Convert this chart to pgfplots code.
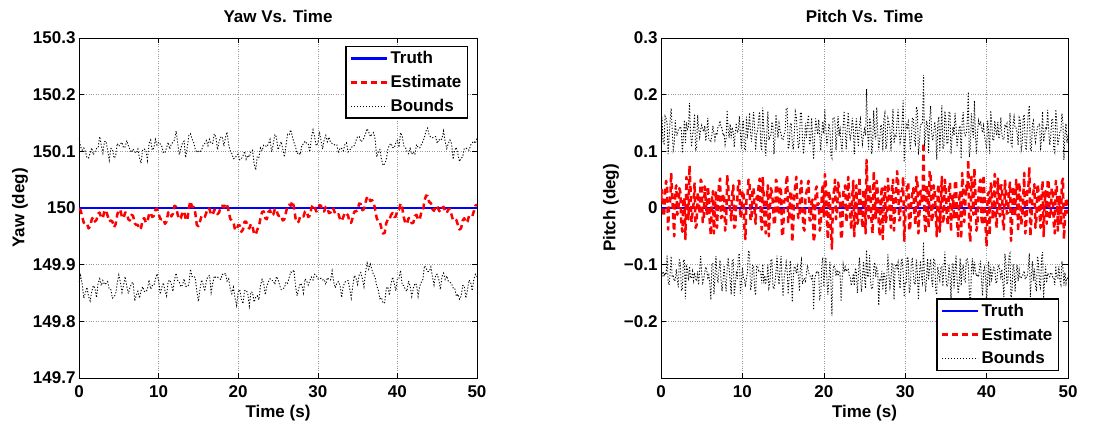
\documentclass[border=0pt]{standalone}
\usepackage{fontspec}
\setmainfont{Liberation Sans}
\usepackage{pgfplots}
\usepackage{pgfplotstable}
\pgfplotsset{compat=1.18}

\newcommand{\bigbf}{\fontsize{17}{20}\selectfont\bfseries}

% yaw: t, estimate, upper bound, lower bound (deg)
\pgfplotstableread{
t est up lo
0.0 149.998 150.123 149.869
0.2 149.996 150.108 149.881
0.4 149.985 150.102 149.866
0.6 149.974 150.106 149.841
0.8 149.972 150.100 149.850
1.0 149.973 150.089 149.860
1.2 149.964 150.088 149.844
1.4 149.967 150.097 149.836
1.6 149.980 150.106 149.853
1.8 149.984 150.094 149.863
2.0 149.976 150.099 149.859
2.2 149.979 150.105 149.842
2.4 149.990 150.106 149.867
2.6 149.992 150.126 149.875
2.8 149.982 150.111 149.863
3.0 149.983 150.097 149.872
3.2 149.995 150.117 149.865
3.4 149.996 150.118 149.867
3.6 149.986 150.101 149.870
3.8 149.976 150.084 149.857
4.0 149.978 150.105 149.856
4.2 149.976 150.104 149.841
4.4 149.966 150.088 149.843
4.6 149.971 150.091 149.848
4.8 149.988 150.114 149.867
5.0 149.997 150.109 149.882
5.2 149.996 150.113 149.869
5.4 149.984 150.116 149.851
5.6 149.982 150.106 149.864
5.8 149.992 150.108 149.879
6.0 149.991 150.119 149.862
6.2 149.980 150.110 149.849
6.4 149.978 150.103 149.859
6.6 149.988 150.098 149.867
6.8 149.986 150.104 149.869
7.0 149.973 150.099 149.836
7.2 149.970 150.097 149.846
7.4 149.970 150.104 149.853
7.6 149.962 150.088 149.841
7.8 149.965 150.079 149.854
8.0 149.980 150.103 149.861
8.2 149.982 150.104 149.853
8.4 149.974 150.102 149.852
8.6 149.976 150.084 149.857
8.8 149.989 150.114 149.873
9.0 149.992 150.120 149.857
9.2 149.984 150.102 149.863
9.4 149.986 150.106 149.863
9.6 149.997 150.121 149.874
9.8 149.999 150.111 149.884
10.0 149.990 150.116 149.873
10.2 149.981 150.113 149.848
10.4 149.980 150.109 149.860
10.6 149.981 150.097 149.868
10.8 149.972 150.098 149.854
11.0 149.976 150.106 149.845
11.2 149.992 150.116 149.870
11.4 149.994 150.104 149.873
11.6 149.985 150.113 149.866
11.8 149.990 150.116 149.853
12.0 150.004 150.120 149.874
12.2 150.002 150.136 149.885
12.4 149.988 150.114 149.872
12.6 149.980 150.094 149.869
12.8 149.982 150.105 149.861
13.0 149.993 150.115 149.864
13.2 149.994 150.118 149.875
13.4 149.981 150.089 149.862
13.6 149.978 150.107 149.861
13.8 150.000 150.128 149.865
14.0 150.012 150.131 149.892
14.2 150.002 150.122 149.879
14.4 150.002 150.116 149.880
14.6 149.992 150.104 149.877
14.8 149.970 150.098 149.854
15.0 149.968 150.100 149.835
15.2 149.976 150.099 149.857
15.4 149.986 150.102 149.873
15.6 149.986 150.111 149.865
15.8 149.984 150.114 149.853
16.0 149.992 150.119 149.872
16.2 150.000 150.110 149.879
16.4 149.998 150.121 149.881
16.6 149.988 150.114 149.851
16.8 149.988 150.114 149.867
17.0 149.997 150.131 149.880
17.2 149.996 150.125 149.877
17.4 149.989 150.103 149.878
17.6 149.992 150.117 149.876
17.8 150.003 150.125 149.874
18.0 150.004 150.126 149.883
18.2 150.001 150.109 149.882
18.4 150.008 150.124 149.885
18.6 150.006 150.134 149.871
18.8 149.994 150.112 149.875
19.0 149.981 150.101 149.858
19.2 149.978 150.096 149.849
19.4 149.975 150.087 149.860
19.6 149.962 150.088 149.841
19.8 149.961 150.093 149.828
20.0 149.970 150.095 149.852
20.2 149.969 150.085 149.856
20.4 149.958 150.087 149.839
20.6 149.962 150.092 149.831
20.8 149.976 150.100 149.854
21.0 149.976 150.086 149.855
21.2 149.966 150.093 149.849
21.4 149.964 150.090 149.827
21.6 149.972 150.100 149.852
21.8 149.968 150.102 149.851
22.0 149.954 150.078 149.834
22.2 149.953 150.067 149.842
22.4 149.962 150.091 149.845
22.6 149.967 150.089 149.838
22.8 149.982 150.106 149.863
23.0 149.993 150.101 149.874
23.2 149.994 150.111 149.867
23.4 149.982 150.110 149.847
23.6 149.980 150.108 149.862
23.8 149.993 150.113 149.870
24.0 149.996 150.121 149.875
24.2 149.987 150.099 149.872
24.4 149.988 150.112 149.872
24.6 149.998 150.130 149.865
24.8 149.998 150.125 149.879
25.0 149.987 150.103 149.874
25.2 149.986 150.109 149.864
25.4 149.987 150.117 149.856
25.6 149.978 150.104 149.858
25.8 149.980 150.090 149.859
26.0 149.992 150.110 149.869
26.2 150.004 150.130 149.867
26.4 150.006 150.129 149.877
26.6 150.004 150.138 149.887
26.8 150.012 150.126 149.886
27.0 150.002 150.116 149.891
27.2 149.982 150.108 149.862
27.4 149.974 150.096 149.845
27.6 149.976 150.098 149.858
27.8 149.986 150.094 149.867
28.0 149.986 150.111 149.864
28.2 149.985 150.113 149.850
28.4 149.994 150.118 149.875
28.6 149.994 150.114 149.871
28.8 149.984 150.113 149.864
29.0 149.987 150.099 149.872
29.2 150.000 150.125 149.878
29.4 150.006 150.138 149.873
29.6 150.002 150.125 149.883
29.8 149.994 150.110 149.881
30.0 149.996 150.114 149.875
30.2 150.005 150.135 149.874
30.4 150.004 150.119 149.876
30.6 149.994 150.104 149.873
30.8 149.994 150.120 149.874
31.0 150.002 150.128 149.865
31.2 150.000 150.117 149.877
31.4 149.991 150.125 149.874
31.6 149.992 150.116 149.873
31.8 150.000 150.114 149.889
32.0 149.998 150.113 149.869
32.2 149.988 150.110 149.859
32.4 149.988 150.111 149.868
32.6 149.989 150.097 149.870
32.8 149.980 150.106 149.863
33.0 149.977 150.105 149.842
33.2 149.984 150.101 149.862
33.4 149.992 150.112 149.869
33.6 149.990 150.115 149.871
33.8 149.987 150.099 149.872
34.0 149.974 150.102 149.858
34.2 149.974 150.106 149.841
34.4 149.984 150.110 149.863
34.6 149.994 150.110 149.881
34.8 149.994 150.119 149.876
35.0 149.996 150.126 149.865
35.2 150.008 150.126 149.882
35.4 150.007 150.117 149.886
35.6 149.996 150.119 149.875
35.8 149.998 150.124 149.861
36.0 150.010 150.131 149.887
36.2 150.020 150.140 149.903
36.4 150.020 150.134 149.892
36.6 150.012 150.126 149.901
36.8 150.014 150.130 149.891
37.0 150.011 150.133 149.882
37.2 149.998 150.122 149.878
37.4 149.982 150.090 149.863
37.6 149.976 150.099 149.855
37.8 149.975 150.103 149.840
38.0 149.964 150.086 149.842
38.2 149.955 150.075 149.832
38.4 149.956 150.078 149.833
38.6 149.973 150.085 149.858
38.8 149.980 150.104 149.861
39.0 149.979 150.111 149.846
39.2 149.988 150.114 149.866
39.4 149.991 150.107 149.878
39.6 149.984 150.106 149.867
39.8 149.985 150.115 149.854
40.0 149.996 150.119 149.876
40.2 149.997 150.107 149.876
40.4 150.008 150.133 149.890
40.6 150.001 150.127 149.864
40.8 149.984 150.110 149.863
41.0 149.973 150.107 149.856
41.2 149.972 150.100 149.853
41.4 149.982 150.096 149.871
41.6 149.982 150.105 149.862
41.8 149.973 150.095 149.844
42.0 149.974 150.099 149.858
42.2 149.986 150.094 149.867
42.4 149.988 150.112 149.865
42.6 149.979 150.107 149.844
42.8 149.980 150.106 149.862
43.0 149.992 150.112 149.869
43.2 149.994 150.117 149.874
43.4 150.013 150.125 149.898
43.6 150.022 150.136 149.894
43.8 150.021 150.141 149.888
44.0 150.010 150.128 149.888
44.2 150.009 150.125 149.896
44.4 149.998 150.124 149.879
44.6 149.995 150.125 149.864
44.8 150.002 150.126 149.882
45.0 150.004 150.114 149.883
45.2 149.996 150.121 149.874
45.4 149.993 150.119 149.856
45.6 150.000 150.122 149.879
45.8 150.002 150.136 149.885
46.0 149.994 150.117 149.874
46.2 149.991 150.105 149.880
46.4 149.998 150.114 149.871
46.6 149.998 150.120 149.869
46.8 149.988 150.114 149.867
47.0 149.978 150.086 149.859
47.2 149.978 150.102 149.859
47.4 149.979 150.107 149.844
47.6 149.970 150.095 149.848
47.8 149.962 150.082 149.839
48.0 149.964 150.088 149.844
48.2 149.978 150.090 149.863
48.4 149.982 150.105 149.863
48.6 149.974 150.106 149.841
48.8 149.976 150.103 149.855
49.0 149.986 150.102 149.873
49.2 149.986 150.111 149.869
49.4 149.985 150.115 149.854
49.6 149.994 150.118 149.874
49.8 150.004 150.114 149.883
50.0 150.006 150.123 149.879
}\yawdata

% pitch: t, estimate, upper bound, lower bound (deg)
\pgfplotstableread{
t est up lo
0.000 0.012 0.144 -0.126
0.125 0.032 0.160 -0.120
0.250 -0.008 0.114 -0.112
0.375 -0.015 0.113 -0.121
0.500 0.025 0.162 -0.114
0.625 0.048 0.158 -0.118
0.750 0.040 0.150 -0.084
0.875 -0.038 0.095 -0.129
1.000 0.005 0.126 -0.136
1.125 0.010 0.155 -0.115
1.250 0.062 0.176 -0.085
1.375 0.022 0.137 -0.121
1.500 -0.018 0.103 -0.119
1.625 -0.050 0.113 -0.129
1.750 0.030 0.155 -0.127
1.875 0.040 0.130 -0.108
2.000 -0.012 0.128 -0.126
2.125 -0.005 0.138 -0.140
2.250 0.035 0.139 -0.089
2.375 0.028 0.144 -0.098
2.500 -0.030 0.139 -0.145
2.625 -0.042 0.097 -0.145
2.750 0.018 0.125 -0.091
2.875 0.018 0.155 -0.093
3.000 -0.055 0.115 -0.161
3.125 0.055 0.151 -0.103
3.250 0.022 0.139 -0.107
3.375 -0.020 0.142 -0.128
3.500 0.075 0.185 -0.103
3.625 0.035 0.133 -0.123
3.750 -0.025 0.108 -0.124
3.875 -0.008 0.128 -0.112
4.000 0.008 0.142 -0.128
4.125 0.045 0.166 -0.114
4.250 -0.035 0.101 -0.125
4.375 -0.030 0.105 -0.129
4.500 0.028 0.164 -0.112
4.625 0.012 0.140 -0.136
4.750 -0.010 0.125 -0.109
4.875 0.050 0.139 -0.085
5.000 0.045 0.146 -0.116
5.125 -0.025 0.138 -0.132
5.250 -0.020 0.135 -0.126
5.375 0.038 0.145 -0.113
5.500 0.012 0.118 -0.104
5.625 -0.012 0.132 -0.110
5.750 0.038 0.159 -0.123
5.875 0.020 0.120 -0.118
6.000 -0.028 0.120 -0.134
6.125 -0.048 0.116 -0.162
6.250 0.015 0.129 -0.099
6.375 0.030 0.145 -0.097
6.500 -0.045 0.132 -0.152
6.625 0.005 0.120 -0.122
6.750 0.030 0.131 -0.085
6.875 -0.035 0.129 -0.119
7.000 0.005 0.144 -0.132
7.125 0.042 0.145 -0.109
7.250 0.052 0.154 -0.092
7.375 -0.018 0.143 -0.127
7.500 -0.015 0.141 -0.147
7.625 0.025 0.128 -0.128
7.750 0.022 0.131 -0.101
7.875 -0.040 0.112 -0.128
8.000 -0.030 0.123 -0.147
8.125 0.058 0.173 -0.107
8.250 0.040 0.138 -0.088
8.375 0.008 0.124 -0.110
8.500 -0.005 0.148 -0.128
8.625 -0.022 0.123 -0.153
8.750 0.025 0.142 -0.092
8.875 0.040 0.134 -0.090
9.000 -0.035 0.107 -0.155
9.125 -0.032 0.134 -0.136
9.250 0.010 0.150 -0.111
9.375 0.015 0.133 -0.125
9.500 0.048 0.136 -0.086
9.625 0.048 0.162 -0.080
9.750 -0.018 0.131 -0.151
9.875 -0.010 0.105 -0.133
10.000 0.030 0.149 -0.105
10.125 0.030 0.155 -0.123
10.250 -0.040 0.102 -0.126
10.375 -0.055 0.103 -0.139
10.500 0.015 0.161 -0.123
10.625 0.022 0.129 -0.113
10.750 0.050 0.141 -0.075
10.875 0.045 0.168 -0.080
11.000 -0.022 0.131 -0.145
11.125 -0.015 0.117 -0.137
11.250 0.035 0.145 -0.101
11.375 0.035 0.169 -0.101
11.500 -0.008 0.144 -0.144
11.625 -0.028 0.102 -0.154
11.750 0.020 0.130 -0.102
11.875 0.010 0.137 -0.103
12.000 0.042 0.159 -0.111
12.125 0.052 0.170 -0.110
12.250 -0.015 0.111 -0.115
12.375 -0.038 0.101 -0.133
12.500 0.055 0.177 -0.099
12.625 0.018 0.143 -0.133
12.750 -0.030 0.115 -0.119
12.875 -0.045 0.092 -0.132
13.000 0.020 0.134 -0.128
13.125 0.040 0.170 -0.100
13.250 -0.050 0.120 -0.141
13.375 0.000 0.126 -0.132
13.500 0.035 0.129 -0.093
13.625 0.028 0.152 -0.090
13.750 0.008 0.144 -0.138
13.875 -0.030 0.095 -0.143
14.000 -0.025 0.122 -0.132
14.125 0.050 0.165 -0.113
14.250 0.045 0.144 -0.084
14.375 -0.012 0.124 -0.118
14.500 -0.010 0.149 -0.135
14.625 0.038 0.137 -0.105
14.750 0.030 0.131 -0.085
14.875 -0.050 0.121 -0.127
15.000 -0.045 0.120 -0.156
15.125 0.012 0.130 -0.124
15.250 0.015 0.135 -0.111
15.375 0.045 0.174 -0.096
15.500 0.058 0.177 -0.111
15.625 -0.025 0.104 -0.152
15.750 -0.020 0.110 -0.122
15.875 0.030 0.147 -0.093
16.000 0.025 0.150 -0.120
16.125 -0.060 0.114 -0.166
16.250 -0.030 0.103 -0.123
16.375 0.022 0.131 -0.103
16.500 0.040 0.170 -0.106
16.625 0.055 0.161 -0.115
16.750 0.002 0.131 -0.103
16.875 -0.018 0.105 -0.119
17.000 -0.018 0.115 -0.147
17.125 0.035 0.167 -0.103
17.250 0.048 0.169 -0.092
17.375 -0.005 0.124 -0.134
17.500 -0.035 0.095 -0.127
17.625 -0.040 0.118 -0.124
17.750 0.020 0.150 -0.132
17.875 0.028 0.124 -0.114
18.000 0.038 0.153 -0.101
18.125 0.048 0.164 -0.114
18.250 -0.022 0.111 -0.117
18.375 -0.022 0.119 -0.123
18.500 0.010 0.159 -0.125
18.625 0.015 0.125 -0.117
18.750 -0.060 0.086 -0.180
18.875 -0.048 0.122 -0.126
19.000 0.032 0.158 -0.118
19.125 0.038 0.143 -0.111
19.250 0.005 0.130 -0.116
19.375 0.008 0.156 -0.114
19.500 -0.040 0.128 -0.160
19.625 -0.030 0.101 -0.155
19.750 0.025 0.132 -0.100
19.875 0.042 0.153 -0.087
20.000 -0.015 0.131 -0.139
20.125 0.060 0.174 -0.106
20.250 0.042 0.139 -0.087
20.375 -0.020 0.110 -0.124
20.500 -0.055 0.123 -0.153
20.625 0.030 0.149 -0.127
20.750 0.018 0.139 -0.095
20.875 -0.042 0.093 -0.131
21.000 -0.072 0.088 -0.190
21.125 0.018 0.159 -0.111
21.250 0.030 0.160 -0.101
21.375 0.050 0.151 -0.107
21.500 -0.020 0.102 -0.120
21.625 -0.010 0.133 -0.109
21.750 0.045 0.162 -0.120
21.875 0.035 0.127 -0.111
22.000 0.008 0.138 -0.116
22.125 -0.055 0.113 -0.165
22.250 -0.045 0.100 -0.128
22.375 0.025 0.142 -0.100
22.500 0.035 0.171 -0.113
22.625 0.040 0.138 -0.104
22.750 -0.025 0.104 -0.112
22.875 -0.015 0.139 -0.109
23.000 0.055 0.169 -0.107
23.125 0.022 0.135 -0.119
23.250 -0.010 0.123 -0.123
23.375 -0.038 0.133 -0.137
23.500 0.022 0.159 -0.129
23.625 0.048 0.140 -0.116
23.750 -0.050 0.095 -0.137
23.875 0.005 0.134 -0.106
24.000 0.040 0.158 -0.112
24.125 -0.028 0.130 -0.150
24.250 -0.020 0.108 -0.118
24.375 0.055 0.147 -0.087
24.500 0.015 0.157 -0.119
24.625 -0.012 0.128 -0.148
24.750 -0.035 0.113 -0.121
24.875 0.032 0.130 -0.094
25.000 0.030 0.139 -0.123
25.125 -0.045 0.128 -0.142
25.250 0.085 0.210 -0.074
25.375 0.020 0.136 -0.122
25.500 -0.018 0.103 -0.119
25.625 0.042 0.159 -0.083
25.750 0.025 0.152 -0.130
25.875 -0.030 0.095 -0.143
26.000 -0.045 0.112 -0.142
26.125 0.065 0.172 -0.106
26.250 0.020 0.132 -0.096
26.375 -0.018 0.121 -0.121
26.500 0.048 0.178 -0.106
26.625 0.028 0.132 -0.110
26.750 -0.028 0.102 -0.172
26.875 -0.050 0.121 -0.127
27.000 0.010 0.147 -0.129
27.125 0.038 0.143 -0.111
27.250 -0.055 0.101 -0.145
27.375 0.010 0.157 -0.113
27.500 0.038 0.167 -0.121
27.625 -0.025 0.104 -0.152
27.750 -0.012 0.114 -0.118
27.875 0.052 0.158 -0.082
28.000 0.025 0.150 -0.120
28.125 -0.008 0.140 -0.140
28.250 -0.035 0.101 -0.125
28.375 0.035 0.137 -0.097
28.500 0.050 0.175 -0.101
28.625 -0.040 0.114 -0.162
28.750 -0.005 0.128 -0.106
28.875 0.022 0.125 -0.099
29.000 0.065 0.156 -0.106
29.125 0.048 0.174 -0.096
29.250 -0.022 0.134 -0.127
29.375 -0.020 0.116 -0.142
29.500 0.030 0.127 -0.095
29.625 0.030 0.153 -0.089
29.750 0.055 0.190 -0.115
29.875 -0.058 0.081 -0.157
30.000 -0.020 0.124 -0.130
30.125 0.015 0.147 -0.131
30.250 0.040 0.142 -0.086
30.375 0.045 0.152 -0.090
30.500 -0.040 0.134 -0.150
30.625 -0.032 0.102 -0.140
30.750 0.015 0.123 -0.093
30.875 0.025 0.158 -0.090
31.000 0.035 0.159 -0.117
31.125 -0.010 0.119 -0.135
31.250 -0.030 0.113 -0.133
31.375 0.055 0.179 -0.091
31.500 0.048 0.172 -0.116
31.625 -0.045 0.094 -0.162
31.750 -0.010 0.115 -0.117
31.875 0.030 0.147 -0.093
32.000 0.020 0.148 -0.122
32.125 0.008 0.148 -0.132
32.250 0.115 0.235 -0.060
32.375 -0.022 0.109 -0.125
32.500 -0.045 0.128 -0.148
32.625 0.040 0.154 -0.122
32.750 0.030 0.145 -0.089
32.875 -0.035 0.097 -0.127
33.000 0.065 0.156 -0.106
33.125 0.060 0.180 -0.090
33.250 -0.025 0.133 -0.128
33.375 -0.015 0.119 -0.139
33.500 0.040 0.132 -0.090
33.625 0.028 0.152 -0.090
33.750 -0.008 0.136 -0.146
33.875 -0.050 0.085 -0.153
34.000 0.032 0.150 -0.104
34.125 0.042 0.161 -0.117
34.250 -0.042 0.101 -0.127
34.375 0.012 0.136 -0.106
34.500 0.055 0.181 -0.103
34.625 -0.028 0.104 -0.138
34.750 -0.015 0.109 -0.107
34.875 0.050 0.171 -0.077
35.000 0.025 0.154 -0.122
35.125 -0.018 0.115 -0.139
35.250 -0.030 0.113 -0.133
35.375 0.035 0.169 -0.101
35.500 0.045 0.170 -0.118
35.625 -0.042 0.095 -0.161
35.750 0.010 0.125 -0.107
35.875 0.022 0.143 -0.097
36.000 -0.020 0.128 -0.142
36.125 0.048 0.168 -0.112
36.250 0.048 0.142 -0.084
36.375 -0.025 0.108 -0.126
36.500 -0.050 0.125 -0.151
36.625 0.015 0.141 -0.135
36.750 0.030 0.145 -0.089
36.875 -0.055 0.087 -0.137
37.000 0.062 0.155 -0.107
37.125 0.038 0.169 -0.101
37.250 -0.025 0.133 -0.128
37.375 0.005 0.128 -0.130
37.500 0.040 0.132 -0.090
37.625 0.030 0.153 -0.089
37.750 0.085 0.205 -0.100
37.875 -0.040 0.090 -0.148
38.000 -0.060 0.104 -0.185
38.125 0.055 0.167 -0.111
38.250 0.035 0.139 -0.089
38.375 -0.012 0.124 -0.118
38.500 0.070 0.189 -0.095
38.625 0.025 0.130 -0.112
38.750 -0.040 0.096 -0.120
38.875 -0.030 0.131 -0.117
39.000 0.025 0.154 -0.122
39.125 0.045 0.146 -0.108
39.250 0.050 0.153 -0.093
39.375 -0.020 0.142 -0.128
39.500 -0.030 0.133 -0.155
39.625 0.058 0.145 -0.111
39.750 0.015 0.127 -0.105
39.875 -0.035 0.115 -0.125
40.000 -0.068 0.104 -0.166
40.125 0.020 0.154 -0.126
40.250 0.028 0.132 -0.094
40.375 -0.048 0.096 -0.138
40.500 0.045 0.172 -0.104
40.625 0.035 0.151 -0.125
40.750 -0.020 0.120 -0.114
40.875 0.010 0.119 -0.105
41.000 0.060 0.154 -0.108
41.125 -0.022 0.139 -0.131
41.250 -0.035 0.128 -0.133
41.375 0.052 0.152 -0.106
41.500 0.020 0.122 -0.100
41.625 -0.015 0.131 -0.111
41.750 0.040 0.160 -0.122
41.875 0.040 0.130 -0.108
42.000 -0.025 0.122 -0.132
42.125 -0.038 0.121 -0.157
42.250 0.050 0.147 -0.081
42.375 0.028 0.144 -0.098
42.500 -0.010 0.149 -0.135
42.625 -0.008 0.114 -0.128
42.750 0.030 0.131 -0.085
42.875 0.045 0.168 -0.080
43.000 -0.058 0.113 -0.163
43.125 -0.030 0.109 -0.145
43.250 0.038 0.147 -0.099
43.375 0.018 0.161 -0.109
43.500 -0.015 0.141 -0.147
43.625 0.050 0.141 -0.115
43.750 0.025 0.132 -0.100
43.875 -0.042 0.111 -0.129
44.000 0.045 0.160 -0.110
44.125 0.025 0.156 -0.124
44.250 -0.030 0.103 -0.123
44.375 -0.015 0.113 -0.121
44.500 0.020 0.160 -0.116
44.625 0.062 0.165 -0.111
44.750 -0.045 0.108 -0.126
44.875 -0.025 0.102 -0.122
45.000 0.035 0.141 -0.121
45.125 0.035 0.167 -0.103
45.250 0.072 0.181 -0.080
45.375 -0.050 0.101 -0.157
45.500 -0.020 0.102 -0.120
45.625 0.020 0.148 -0.094
45.750 0.028 0.154 -0.128
45.875 0.042 0.131 -0.107
46.000 -0.035 0.117 -0.137
46.125 -0.018 0.131 -0.147
46.250 0.042 0.143 -0.085
46.375 0.030 0.145 -0.097
46.500 -0.010 0.149 -0.135
46.625 -0.035 0.101 -0.141
46.750 0.025 0.128 -0.088
46.875 0.048 0.170 -0.078
47.000 -0.050 0.117 -0.159
47.125 0.008 0.128 -0.126
47.250 0.030 0.143 -0.103
47.375 -0.028 0.138 -0.132
47.500 0.050 0.173 -0.115
47.625 0.045 0.138 -0.118
47.750 -0.018 0.111 -0.121
47.875 -0.012 0.126 -0.114
48.000 0.035 0.155 -0.115
48.125 0.028 0.158 -0.122
48.250 -0.028 0.104 -0.122
48.375 -0.045 0.098 -0.136
48.500 0.048 0.174 -0.102
48.625 0.038 0.153 -0.123
48.750 -0.040 0.110 -0.124
48.875 0.015 0.121 -0.103
49.000 0.022 0.135 -0.127
49.125 -0.030 0.135 -0.135
49.250 0.045 0.167 -0.094
49.375 0.052 0.152 -0.106
49.500 -0.055 0.085 -0.137
49.625 -0.020 0.128 -0.114
49.750 0.018 0.149 -0.133
49.875 0.010 0.115 -0.123
50.000 -0.010 0.129 -0.125
}\pitchdata

\pgfplotsset{
  matlab/.style={
    scale only axis,
    width=398pt, height=340pt,
    xmin=0, xmax=50,
    xtick={0,10,...,50},
    /pgf/number format/assume math mode=true,
    tick align=inside,
    major tick length=5pt,
    axis line style={line width=0.8pt},
    every tick/.style={black, line width=0.6pt},
    grid=major,
    grid style={dotted, gray!80, line width=0.6pt},
    tick label style={font=\bigbf},
    xticklabel style={yshift=-4pt},
    label style={font=\bigbf},
    title style={font=\bigbf, yshift=6pt},
    xlabel={Time (s)},
    xlabel style={at={(axis description cs:0.5,0)}, anchor=north, yshift=-24pt},
    legend style={font=\bigbf, draw=black, line width=1.2pt, inner xsep=4pt, inner ysep=3pt,
      cells={anchor=west}, row sep=6pt},
    legend image code/.code={\draw[#1] (0pt,0pt) -- (36pt,0pt);},
  },
  truth/.style={blue, line width=2.5pt},
  est/.style={red, line width=2.5pt, line join=round, dash pattern=on 6pt off 4pt},
  bnd/.style={black, line width=0.9pt, dash pattern=on 1.2pt off 1.8pt},
}

\begin{document}
\begin{tikzpicture}
\begin{axis}[matlab,
  at={(0pt,0pt)},
  title={Yaw Vs. Time},
  ylabel={Yaw (deg)},
  ylabel style={yshift=-2pt},
  ymin=149.7, ymax=150.3,
  ytick={149.7,149.8,149.9,150,150.1,150.2,150.3},
  yticklabels={149.7,149.8,149.9,150,150.1,150.2,150.3},
  legend style={at={(1,1)}, anchor=north east, xshift=-9pt, yshift=-8pt},
]
\addplot[truth] coordinates {(0,150) (50,150)};
\addplot[est] table[x=t, y=est] {\yawdata};
\addplot[bnd] table[x=t, y=up] {\yawdata};
\addplot[bnd, forget plot] table[x=t, y=lo] {\yawdata};
\legend{Truth, Estimate, Bounds}
\end{axis}

\begin{axis}[matlab,
  at={(582pt,0pt)},
  width=407pt,
  title={Pitch Vs. Time},
  ylabel={Pitch (deg)},
  ylabel style={yshift=-2pt},
  ymin=-0.3, ymax=0.3,
  ytick={-0.2,-0.1,0,0.1,0.2,0.3},
  yticklabels={−0.2,−0.1,0,0.1,0.2,0.3},
  legend style={at={(1,0)}, anchor=south east, xshift=-9pt, yshift=7pt},
]
\addplot[truth] coordinates {(0,0) (50,0)};
\addplot[est] table[x=t, y=est] {\pitchdata};
\addplot[bnd] table[x=t, y=up] {\pitchdata};
\addplot[bnd, forget plot] table[x=t, y=lo] {\pitchdata};
\legend{Truth, Estimate, Bounds}
\end{axis}
\pgfresetboundingbox
\path (-79pt,-47pt) rectangle (1036pt,378pt);
\end{tikzpicture}
\end{document}
